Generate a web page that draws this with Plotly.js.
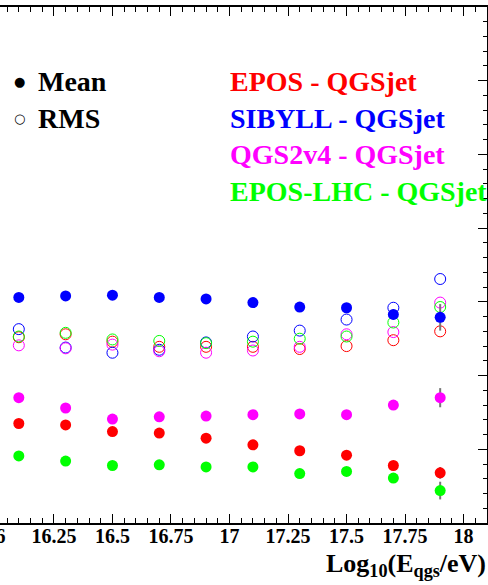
<!DOCTYPE html>
<html>
<head>
<meta charset="utf-8">
<script src="https://cdn.plot.ly/plotly-3.0.1.min.js"></script>
<style>
html, body { margin:0; padding:0; overflow:hidden; background:#fff; width:488px; height:585px; }
#plot { position:absolute; left:-90px; top:0; width:580px; height:585px; }
</style>
</head>
<body>
<div id="plot"></div>
<script>
// Energy bins: log10(E_qgs/eV)
const energies = [16.1, 16.3, 16.5, 16.7, 16.9, 17.1, 17.3, 17.5, 17.7, 17.9];

// Mean differences w.r.t. QGSjet
const eposMean     = [-26.5, -26.7, -27.6, -27.8, -28.5, -29.4, -30.2, -30.8, -32.2, -33.2];
const sibyllMean   = [-9.4, -9.2, -9.1, -9.4, -9.6, -10.1, -10.7, -10.8, -11.7, -12.1];
const qgs2v4Mean   = [-23.0, -24.4, -25.9, -25.6, -25.5, -25.3, -25.2, -25.3, -24.0, -23.0];
const eposLhcMean  = [-30.9, -31.6, -32.2, -32.1, -32.4, -32.4, -33.3, -33.0, -33.9, -35.6];

// Errors on the mean
const eposMeanErr    = [0.3, 0.3, 0.3, 0.3, 0.4, 0.4, 0.5, 0.5, 0.6, 0.8];
const sibyllMeanErr  = [0.3, 0.3, 0.3, 0.3, 0.4, 0.4, 0.5, 0.6, 0.7, 1.8];
const qgs2v4MeanErr  = [0.3, 0.3, 0.3, 0.3, 0.4, 0.4, 0.5, 0.5, 0.6, 1.3];
const eposLhcMeanErr = [0.3, 0.3, 0.3, 0.3, 0.4, 0.4, 0.5, 0.5, 0.6, 1.2];

// RMS differences w.r.t. QGSjet
const eposRms    = [-14.8, -14.4, -15.4, -16.1, -16.1, -16.1, -16.4, -16.0, -15.2, -14.0];
const sibyllRms  = [-13.7, -16.2, -16.9, -16.5, -15.5, -14.7, -13.9, -12.4, -10.8, -6.9];
const qgs2v4Rms  = [-15.9, -16.3, -15.8, -16.7, -16.9, -16.6, -16.1, -14.4, -14.1, -10.1];
const eposLhcRms = [-14.7, -14.2, -15.1, -15.3, -15.6, -15.4, -15.0, -14.7, -12.8, -10.7];

const labels = ['EPOS - QGSjet', 'SIBYLL - QGSjet', 'QGS2v4 - QGSjet', 'EPOS-LHC - QGSjet'];
const colors = ['#ff0000', '#0000ff', '#ff00ff', '#00ff00'];
const means = [eposMean, sibyllMean, qgs2v4Mean, eposLhcMean];
const meanErrs = [eposMeanErr, sibyllMeanErr, qgs2v4MeanErr, eposLhcMeanErr];
const rmss = [eposRms, sibyllRms, qgs2v4Rms, eposLhcRms];

const traces = [];
for (let i = 0; i < 4; i++) {
  traces.push({
    x: energies, y: rmss[i], type: 'scatter', mode: 'markers', name: labels[i] + ' RMS',
    marker: { symbol: 'circle-open', size: 11, color: colors[i], line: { width: 1, color: colors[i] } },
    showlegend: false, hoverinfo: 'skip'
  });
}
for (let i = 0; i < 4; i++) {
  traces.push({
    x: energies, y: means[i], type: 'scatter', mode: 'markers', name: labels[i] + ' Mean',
    marker: { symbol: 'circle', size: 11, color: colors[i] },
    error_y: { type: 'data', array: meanErrs[i], visible: true, color: '#777777', thickness: 2, width: 0 },
    showlegend: false, hoverinfo: 'skip'
  });
}

// plot-area geometry in page pixels (for placing text)
const PL = -28, PW = 515, PT = 7, PB = 523;
const fx = p => (p - PL) / PW;
const fy = p => (PB - p) / (PB - PT);

const serif = 'Liberation Serif, Times New Roman, serif';
const ann = [];
function txt(t, x, y, color, size, anchor) {
  ann.push({ text: t, xref: 'paper', yref: 'paper', x: fx(x), y: fy(y), xanchor: anchor || 'left', yanchor: 'middle',
    showarrow: false, font: { family: serif, size: size, color: color }, borderpad: 0 });
}
txt('<b>Mean</b>', 37, 81, '#000', 28);
txt('<b>RMS</b>', 37, 118, '#000', 28);
ann.push({ text: '●', xref: 'paper', yref: 'paper', x: fx(19.5), y: fy(81), xanchor: 'center', yanchor: 'middle', showarrow: false,
  font: { family: 'DejaVu Sans', size: 13, color: '#000' }, borderpad: 0 });
ann.push({ text: '○', xref: 'paper', yref: 'paper', x: fx(19.5), y: fy(118), xanchor: 'center', yanchor: 'middle', showarrow: false,
  font: { family: 'DejaVu Sans', size: 13, color: '#000' }, borderpad: 0 });
const rowY = [81, 118, 155, 192];
for (let i = 0; i < 4; i++) txt('<b>' + labels[i] + '</b>', 229, rowY[i], colors[i], 28);
txt('<b>Log<sub>10</sub>(E<sub>qgs</sub>/eV)</b>', 487, 565, '#000', 26, 'right');

const layout = {
  width: 580, height: 585,
  margin: { l: 62, r: 3, t: 7, b: 62 },
  paper_bgcolor: '#ffffff', plot_bgcolor: '#ffffff',
  showlegend: false,
  xaxis: {
    range: [15.9, 18.1], dtick: 0.25, tick0: 16, ticks: 'inside', ticklen: 9, tickwidth: 1, tickcolor: '#000',
    showline: true, linewidth: 2, linecolor: '#000', mirror: 'ticks', showgrid: false, zeroline: false,
    tickfont: { family: serif, size: 20, color: '#000', weight: 'bold' }, ticklabelstandoff: -6,
    minor: { dtick: 0.05, ticks: 'inside', ticklen: 5, tickwidth: 1, tickcolor: '#000', showgrid: false }
  },
  yaxis: {
    range: [-40, 30], dtick: 10, ticks: 'inside', ticklen: 9, tickwidth: 1, tickcolor: '#000',
    showline: true, linewidth: 2, linecolor: '#000', mirror: 'ticks', showgrid: false, zeroline: false,
    showticklabels: false,
    minor: { dtick: 2, ticks: 'inside', ticklen: 4.5, tickwidth: 1, tickcolor: '#000', showgrid: false }
  },
  annotations: ann
};

Plotly.newPlot('plot', traces, layout, { displayModeBar: false, staticPlot: true });
</script>
</body>
</html>
